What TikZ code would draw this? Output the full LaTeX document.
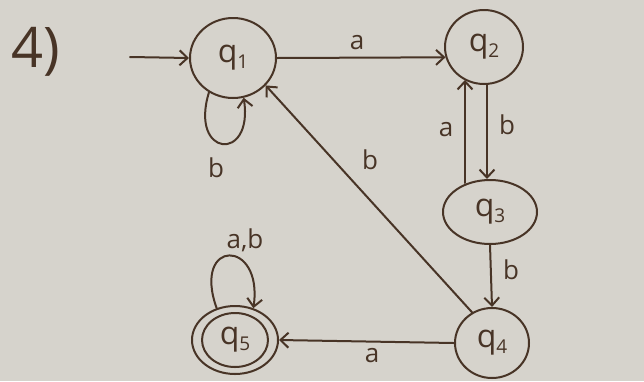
\documentclass[tikz,border=0pt]{standalone}
\usepackage{fontspec}
\setmainfont{Open Sans}
\usetikzlibrary{arrows.meta,shapes.geometric}
\definecolor{paper}{RGB}{214,211,204}
\definecolor{ink}{RGB}{72,52,38}
\tikzset{
  ink/.style={draw=ink, line width=2pt, line cap=round, line join=round},
  state/.style={ellipse, ink, inner sep=0pt, font=\fontsize{32}{32}\selectfont, text=ink},
  trans/.style={ink, -{Straight Barb[length=8pt,width=15pt,line width=2pt]}},
  lbl/.style={font=\fontsize{26}{26}\selectfont, text=ink, inner sep=0pt}
}
\newcommand{\qs}[1]{q\raisebox{-0.35ex}{\fontsize{19}{19}\selectfont #1}}
\begin{document}
\begin{tikzpicture}[x=1pt,y=-1pt]
  % paper
  \fill[paper] (0,0) rectangle (644,381);
  \useasboundingbox (0,0) rectangle (644,381);

  % problem number
  \node[text=ink, font=\fontsize{56}{56}\selectfont, inner sep=0pt] (num) at (36,52) {4)};

  % states
  \node[state, minimum width=86pt, minimum height=80pt] (q1) at (233,58) {\qs{1}};
  \node[state, minimum width=78pt, minimum height=74pt] (q2) at (484,47) {\qs{2}};
  \node[state, minimum width=94pt, minimum height=64pt] (q3) at (490,212) {\qs{3}};
  \node[state, minimum width=74pt, minimum height=70pt] (q4) at (492,343) {\qs{4}};
  \node[state, minimum width=86pt, minimum height=68pt] (q5) at (235,340) {\qs{5}};
  \draw[ink] (q5.center) ellipse [x radius=33pt, y radius=27pt];

  % start arrow
  \coordinate (start) at (130,57);
  \draw[trans] (start) -- (q1.west);

  % transitions
  \draw[trans] (q1.east) -- (q2.-165);
  \draw[trans] ([xshift=3pt]q2.south) -- ([xshift=-3pt]q3.north);
  \draw[trans] ([xshift=-25pt,yshift=-4pt]q3.north) -- ([xshift=-19pt,yshift=5pt]q2.south);
  \draw[trans] (q3.south) -- (q4.north);
  \draw[trans] (q4.123) -- (q1.-40);
  \draw[trans] (q4.west) -- (q5.east);
  \draw[trans] (q1.235) .. controls +(-20,65) and +(10,65) .. (q1.285);
  \draw[trans] (q5.120) .. controls +(-25,-70) and +(10,-70) .. (q5.60);

  % labels
  \node[lbl] (l12) at (357,43) {a};
  \node[lbl] (l11) at (216,168) {b};
  \node[lbl] (l41) at (370,160) {b};
  \node[lbl] (l32) at (446,130) {a};
  \node[lbl] (l23) at (507,125) {b};
  \node[lbl] (l34) at (511,270) {b};
  \node[lbl] (l45) at (372,356) {a};
  \node[lbl] (l55) at (245,240) {a,b};
\end{tikzpicture}
\end{document}
